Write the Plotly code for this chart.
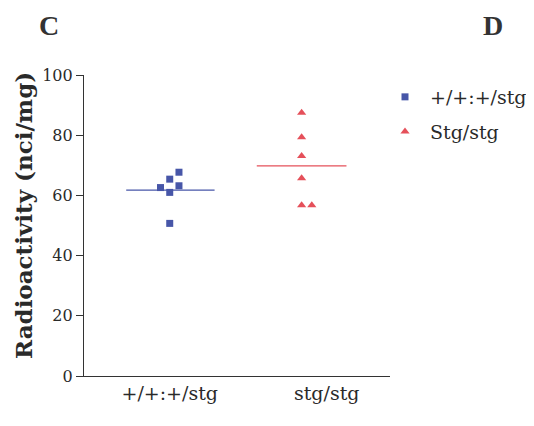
import plotly.graph_objects as go

# ---- data ----
groups = ["+/+:+/stg", "stg/stg"]
legend_names = ["+/+:+/stg", "Stg/stg"]
group_pos = [1.0, 2.0]
wt_values = [67.7, 65.4, 62.6, 63.2, 61.0, 50.7]
wt_offsets = [0.07, 0.0, -0.07, 0.07, 0.0, 0.0]
mut_values = [87.5, 79.3, 73.1, 65.7, 56.7, 56.7]
mut_offsets = [0.0, 0.0, 0.0, 0.0, 0.0, 0.077]
y_ticks = [0, 20, 40, 60, 80, 100]
y_title = "Radioactivity (nci/mg)"

blue = "#4756a8"
red = "#e5505a"
serif = "DejaVu Serif, serif"
times = "Liberation Serif, serif"
ink = "#2a2a2a"

# page body adds an 8px offset; layout is expressed in figure pixels
W, H = 534, 426
l, t = 76, 67
r = W - 382
b = H - 368
pw, ph = W - l - r, H - t - b


def px_x(x):
    return (x - l) / pw


def px_y(y):
    return (H - b - y) / ph


fig = go.Figure()

series = [
    (wt_values, wt_offsets, group_pos[0], blue, "square", 7, legend_names[0], (-0.33, 0.34), "g1"),
    (mut_values, mut_offsets, group_pos[1], red, "triangle-up", 8, legend_names[1], (-0.34, 0.34), "g2"),
]
for vals, offs, pos, col, sym, sz, name, (l0, l1), grp in series:
    fig.add_trace(go.Scatter(
        x=[pos + o for o in offs], y=vals, mode="markers", name=name, legendgroup=grp,
        marker=dict(symbol=sym, size=sz, color=col),
    ))
    mean = sum(vals) / len(vals)
    fig.add_trace(go.Scatter(
        x=[pos + l0, pos + l1], y=[mean, mean], mode="lines", legendgroup=grp,
        line=dict(color=col, width=1.3), showlegend=False, hoverinfo="skip",
    ))

fig.update_layout(
    width=W, height=H,
    margin=dict(l=l, r=r, t=t, b=b, autoexpand=False),
    paper_bgcolor="white", plot_bgcolor="white",
    font=dict(family=serif, color=ink, size=16),
    showlegend=True,
    legend=dict(x=px_x(372), y=px_y(70), xanchor="left", yanchor="top",
                font=dict(family=serif, size=19, color=ink),
                itemsizing="trace", tracegroupgap=7, itemwidth=40,
                bgcolor="rgba(0,0,0,0)"),
    xaxis=dict(range=[0.35, 2.67], showgrid=False, zeroline=False,
               showline=True, linecolor="#333333", linewidth=1.2,
               tickvals=[group_pos[0], group_pos[1] + 0.19], ticktext=groups,
               ticks="", tickfont=dict(size=19, family=serif, color=ink)),
    yaxis=dict(range=[0, 100], showgrid=False, zeroline=False,
               showline=True, linecolor="#333333", linewidth=1.2,
               tickvals=y_ticks, ticks="outside", ticklen=7, tickcolor="#333333",
               tickfont=dict(size=16, family=serif, color=ink)),
    annotations=[
        dict(text="<b>" + y_title + "</b>", x=px_x(15), y=px_y(208),
             xref="paper", yref="paper", xanchor="center", yanchor="middle",
             textangle=-90, borderpad=0, showarrow=False,
             font=dict(size=23, family=serif, color=ink)),
        dict(text="<b>C</b>", x=px_x(41), y=px_y(0.5),
             xref="paper", yref="paper", xanchor="center", yanchor="top",
             borderpad=0, showarrow=False,
             font=dict(size=28, family=times, color="#333333")),
        dict(text="<b>D</b>", x=px_x(485), y=px_y(0.5),
             xref="paper", yref="paper", xanchor="center", yanchor="top",
             borderpad=0, showarrow=False,
             font=dict(size=28, family=times, color="#333333")),
    ],
)

fig.write_html("out.html")
